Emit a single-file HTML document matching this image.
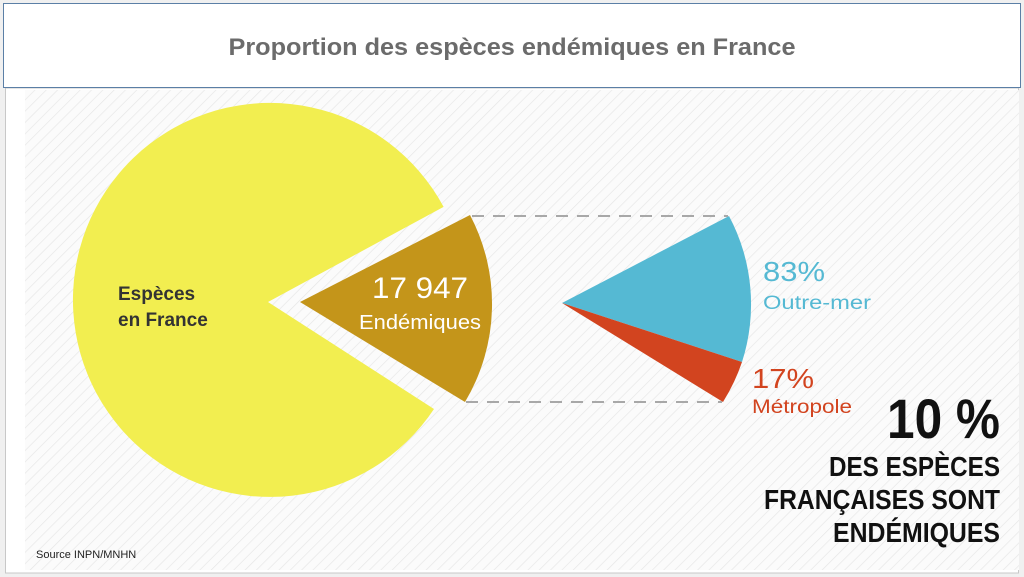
<!DOCTYPE html>
<html><head><meta charset="utf-8"><style>
html,body{margin:0;padding:0;background:#f0f0f0;}
body{width:1024px;height:577px;overflow:hidden;position:relative;font-family:"Liberation Sans",sans-serif;}
</style></head><body>
<svg width="1024" height="577" viewBox="0 0 1024 577" xmlns="http://www.w3.org/2000/svg" style="position:absolute;left:0;top:0">
<defs>
<pattern id="st" width="8" height="8" patternUnits="userSpaceOnUse" patternTransform="rotate(45)">
<rect width="8" height="8" fill="#fbfbfb"/>
<line x1="0" y1="0" x2="0" y2="8" stroke="#e6e6e6" stroke-width="1.3"/>
</pattern>
</defs>
<rect x="0" y="0" width="1024" height="577" fill="#f0f0f0"/>
<rect x="5.5" y="88" width="1013" height="485" fill="#ffffff" stroke="#c8c8c8"/>
<rect x="25" y="90" width="994" height="480" fill="url(#st)"/>
<rect x="3.5" y="3.5" width="1017" height="84" fill="#ffffff" stroke="#5b7fa6" stroke-width="1"/>
<text x="512" y="55" text-anchor="middle" font-size="24" font-weight="bold" fill="#6b6b6b" textLength="567" lengthAdjust="spacingAndGlyphs">Proportion des espèces endémiques en France</text>
<path d="M268,302 L443.6,206.9 A197,197 0 1 0 434,409 Z" fill="#f2ee50"/>
<path d="M300,302 L470,215 A191,191 0 0 1 465,402 Z" fill="#c4951a"/>
<path d="M562,303 L729,216 A188,188 0 0 1 742,362 Z" fill="#55b9d3"/>
<path d="M562,303 L742,362 A188,188 0 0 1 723,402 Z" fill="#d2441f"/>
<line x1="472" y1="216" x2="728" y2="216" stroke="#a8a8a8" stroke-width="2" stroke-dasharray="12,9"/>
<line x1="466" y1="402" x2="722" y2="402" stroke="#a8a8a8" stroke-width="2" stroke-dasharray="12,9"/>
<g font-weight="bold" fill="#333" font-size="19">
<text x="118" y="300">Espèces</text>
<text x="118" y="326">en France</text>
</g>
<text x="420" y="298" text-anchor="middle" font-size="30" fill="#fff" textLength="96" lengthAdjust="spacingAndGlyphs">17 947</text>
<text x="420" y="329" text-anchor="middle" font-size="20" fill="#fff" textLength="122" lengthAdjust="spacingAndGlyphs">Endémiques</text>
<text x="763" y="281" font-size="28" fill="#55b9d3" textLength="62" lengthAdjust="spacingAndGlyphs">83%</text>
<text x="763" y="309" font-size="19" fill="#55b9d3" textLength="108" lengthAdjust="spacingAndGlyphs">Outre-mer</text>
<text x="752" y="388" font-size="28" fill="#d2441f" textLength="62" lengthAdjust="spacingAndGlyphs">17%</text>
<text x="752" y="413" font-size="19" fill="#d2441f" textLength="100" lengthAdjust="spacingAndGlyphs">Métropole</text>
<g font-weight="bold" fill="#111" text-anchor="end">
<text x="1000" y="438" font-size="56" textLength="113" lengthAdjust="spacingAndGlyphs">10 %</text>
<text x="1000" y="476" font-size="28" textLength="171" lengthAdjust="spacingAndGlyphs">DES ESPÈCES</text>
<text x="1000" y="509" font-size="28" textLength="236" lengthAdjust="spacingAndGlyphs">FRANÇAISES SONT</text>
<text x="1000" y="542" font-size="28" textLength="167" lengthAdjust="spacingAndGlyphs">ENDÉMIQUES</text>
</g>
<text x="36" y="558" font-size="11" fill="#222">Source INPN/MNHN</text>
</svg>
</body></html>
